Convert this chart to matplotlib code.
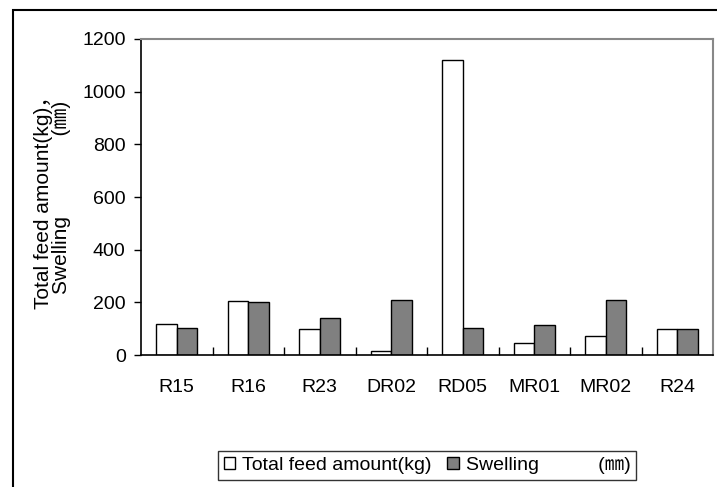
import numpy as np
import matplotlib
matplotlib.use('Agg')
import matplotlib.pyplot as plt
from matplotlib.patches import Rectangle

plt.rcParams['font.family'] = ['Liberation Sans', 'Noto Sans CJK JP', 'DejaVu Sans']

# data
categories = ['R15', 'R16', 'R23', 'DR02', 'RD05', 'MR01', 'MR02', 'R24']
feed_amount = [118, 204, 100, 17, 1122, 44, 71, 100]
swelling = [102, 200, 140, 210, 102, 113, 210, 100]
yticks = [0, 200, 400, 600, 800, 1000, 1200]

fig = plt.figure(figsize=(7.17, 4.87), dpi=100)
ax = fig.add_axes([141/717, 1 - 355/487, 572/717, 316/487])

x = np.arange(len(categories))
w = 0.285
ax.bar(x - w/2, feed_amount, w, color='white', edgecolor='black', linewidth=1.0,
       label='Total feed amount(kg)')
ax.bar(x + w/2, swelling, w, color='#808080', edgecolor='black', linewidth=1.0,
       label='Swelling           (㎜)')

ax.set_xlim(-0.5, len(categories) - 0.5)
ax.set_ylim(0, 1200)
ax.set_yticks(yticks)
ax.set_xticks(x)
ax.set_xticklabels(categories)
ax.tick_params(axis='x', length=0, labelsize=14, pad=17)
ax.set_xticks(np.arange(0.5, len(categories) - 1, 1), minor=True)
ax.tick_params(axis='x', which='minor', direction='in', length=6, width=1)
ax.tick_params(axis='y', direction='out', length=5, width=1, labelsize=14, pad=6)

for s in ['top', 'right']:
    ax.spines[s].set_color('#888888')
    ax.spines[s].set_linewidth(1.5)
for s in ['left', 'bottom']:
    ax.spines[s].set_color('black')
    ax.spines[s].set_linewidth(1.2)

ax.set_ylabel('Total feed amount(kg)，\nSwelling              (㎜)', fontsize=15,
              linespacing=0.95, labelpad=8)

leg = ax.legend(loc='upper center', bbox_to_anchor=(427/717, 1 - 451/487), bbox_transform=fig.transFigure,
                ncol=2, fontsize=14, frameon=True, fancybox=False, edgecolor='black',
                handlelength=0.6, handleheight=0.6, handletextpad=0.35, columnspacing=0.8,
                borderpad=0.3, borderaxespad=0)
leg.get_frame().set_linewidth(1.0)

# outer chart-area frame (left and top edges visible)
fig.patches.append(Rectangle((12.5/717, -0.1), 1.2, 1 - 10/487 + 0.1, transform=fig.transFigure,
                             fill=False, edgecolor='black', linewidth=1.5))

fig.savefig('out.png', dpi=100)
